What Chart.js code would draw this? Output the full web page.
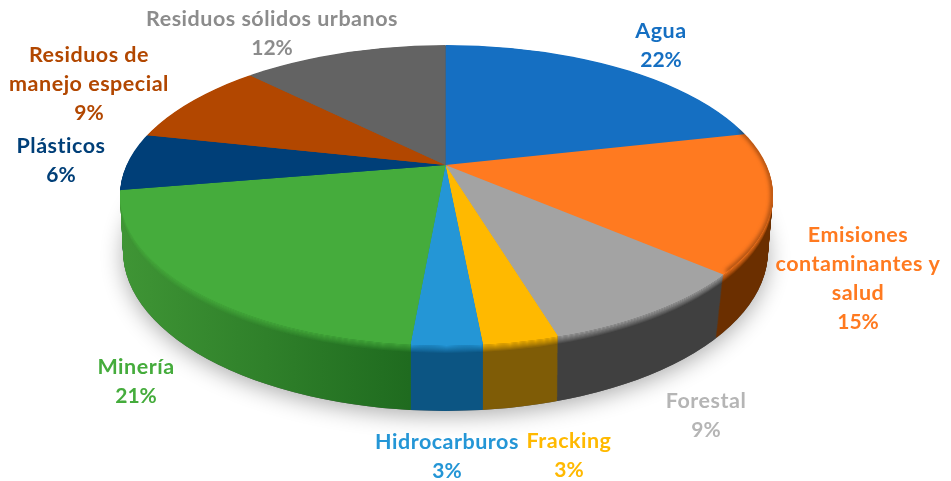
<!DOCTYPE html>
<html lang="es">
<head>
    <meta charset="utf-8">
    <title>Conflictos por sector</title>
    <script src="https://cdn.jsdelivr.net/npm/chart.js"></script>
    <style>
        html, body { margin: 0; padding: 0; background: #ffffff; }
        canvas { display: block; }
    </style>
</head>
<body>
    <canvas id="pieChart" width="951" height="481"></canvas>

    <script>
        // Datos
        const categories = ['Agua', 'Emisiones contaminantes y salud', 'Forestal', 'Fracking', 'Hidrocarburos', 'Minería', 'Plásticos', 'Residuos de manejo especial', 'Residuos sólidos urbanos'];
        const values = [21.5, 15.1, 9, 3.1, 2.9, 21, 6.2, 9.2, 12.4];
        const percentLabels = ['22%', '15%', '9%', '3%', '3%', '21%', '6%', '9%', '12%'];
        const categoryLines = [['Agua'], ['Emisiones', 'contaminantes y', 'salud'], ['Forestal'], ['Fracking'], ['Hidrocarburos'], ['Minería'], ['Plásticos'], ['Residuos de', 'manejo especial'], ['Residuos sólidos urbanos']];

        const topColors = ['#156FC2', '#FF7A20', '#A3A3A3', '#FFB900', '#2496D6', '#45AC3C', '#003F78', '#B24700', '#636363'];
        const wallColors = [['#0B3A66', '#0B3A66'], ['#6B2F00', '#6B2F00'], ['#404040', '#404040'], ['#8A6508', '#7F5C06'], ['#10608F', '#0C5583'], ['#3F9535', '#1F6B1F'], ['#00264A', '#00264A'], ['#6A2A00', '#6A2A00'], ['#3A3A3A', '#3A3A3A']];
        const textColors = ['#156FC2', '#FF7A20', '#B5B5B5', '#FFB900', '#2496D6', '#45AC3C', '#003F78', '#B24700', '#8C8C8C'];

        // Centro de cada bloque de texto: x, y de la primera linea
        const labelAnchors = [[661, 31], [858, 235], [706, 401], [569, 441], [447, 442], [136, 367], [61, 146], [89, 55], [272, 19]];
        const lineHeight = 29;

        // Geometria del "3D": vertice del pastel y elipse de la cara superior
        const apex = { x: 445.5, y: 165 };
        const flatten = 0.45;
        const reach = 410;
        const face = { x: 446.5, y: 195, rx: 326.5, ry: 150 };
        const depth = 66;
        const rim = 8;

        function ellipsePath(ctx, dy) {
            const t = dy / depth;
            ctx.beginPath();
            ctx.ellipse(face.x - 1 * t, face.y + dy - 10 * t, face.rx - 4 * t, face.ry + 10 * t, 0, 0, Math.PI * 2);
        }

        function pieTransform(ctx, arc, dy) {
            const s = reach / arc.outerRadius;
            ctx.translate(apex.x, apex.y + dy);
            ctx.scale(s, s * flatten);
            ctx.translate(-arc.x, -arc.y);
        }

        const pie3d = {
            id: 'pie3d',
            beforeDatasetsDraw(chart) {
                const ctx = chart.ctx;
                const arcs = chart.getDatasetMeta(0).data;

                // sombra suave bajo el pastel
                ctx.save();
                ctx.shadowColor = 'rgba(0,0,0,0.32)';
                ctx.shadowBlur = 22;
                ctx.shadowOffsetY = 5;
                ctx.fillStyle = '#555555';
                ellipsePath(ctx, depth);
                ctx.fill();
                ctx.restore();

                // pared lateral: copias desplazadas hacia abajo
                for (let dy = depth; dy > 0; dy--) {
                    ctx.save();
                    ellipsePath(ctx, dy);
                    ctx.clip();
                    arcs.forEach((arc, i) => {
                        ctx.save();
                        const grad = ctx.createLinearGradient(122, 0, 410, 0);
                        grad.addColorStop(0, wallColors[i][0]);
                        grad.addColorStop(1, wallColors[i][1]);
                        ctx.fillStyle = grad;
                        ctx.save();
                        pieTransform(ctx, arc, dy);
                        ctx.beginPath();
                        ctx.moveTo(arc.x, arc.y);
                        ctx.arc(arc.x, arc.y, arc.outerRadius, arc.startAngle, arc.endAngle);
                        ctx.closePath();
                        ctx.restore();
                        ctx.fill();
                        if (dy <= rim) {
                            ctx.globalAlpha = 1 - (dy - 1) / rim;
                            ctx.fillStyle = topColors[i];
                            ctx.fill();
                        }
                        ctx.restore();
                    });
                    ctx.restore();
                }

                // cara superior, la dibuja Chart.js con esta transformacion
                ctx.save();
                ellipsePath(ctx, 0);
                ctx.clip();
                pieTransform(ctx, arcs[0], 0);
            },
            afterDatasetsDraw(chart) {
                const ctx = chart.ctx;
                ctx.restore();

                // borde oscuro difuso del lado derecho
                ctx.save();
                ellipsePath(ctx, 0);
                ctx.clip();
                ctx.filter = 'blur(2px)';
                ctx.strokeStyle = 'rgba(70,30,0,0.55)';
                ctx.lineWidth = 4;
                ctx.beginPath();
                ctx.ellipse(face.x, face.y, face.rx, face.ry, 0, -0.45, 0.54);
                ctx.stroke();
                ctx.restore();
            },
            afterDraw(chart) {
                const ctx = chart.ctx;
                ctx.save();
                ctx.textAlign = 'center';
                ctx.textBaseline = 'middle';
                categoryLines.forEach((lines, i) => {
                    const [x, y] = labelAnchors[i];
                    ctx.fillStyle = textColors[i];
                    ctx.font = 'bold 21.5px Lato';
                    ctx.letterSpacing = '0.5px';
                    lines.forEach((line, n) => {
                        ctx.fillText(line, x, y + n * lineHeight);
                    });
                    ctx.font = 'bold 21px Lato';
                    ctx.letterSpacing = '0px';
                    ctx.fillText(percentLabels[i], x, y + lines.length * lineHeight);
                });
                ctx.restore();
            }
        };

        new Chart(document.getElementById('pieChart'), {
            type: 'pie',
            data: {
                labels: categories,
                datasets: [{
                    data: values,
                    backgroundColor: topColors,
                    borderWidth: 0,
                    clip: false
                }]
            },
            options: {
                responsive: false,
                animation: false,
                plugins: {
                    legend: { display: false },
                    tooltip: { enabled: false }
                }
            },
            plugins: [pie3d]
        });
    </script>
</body>
</html>
